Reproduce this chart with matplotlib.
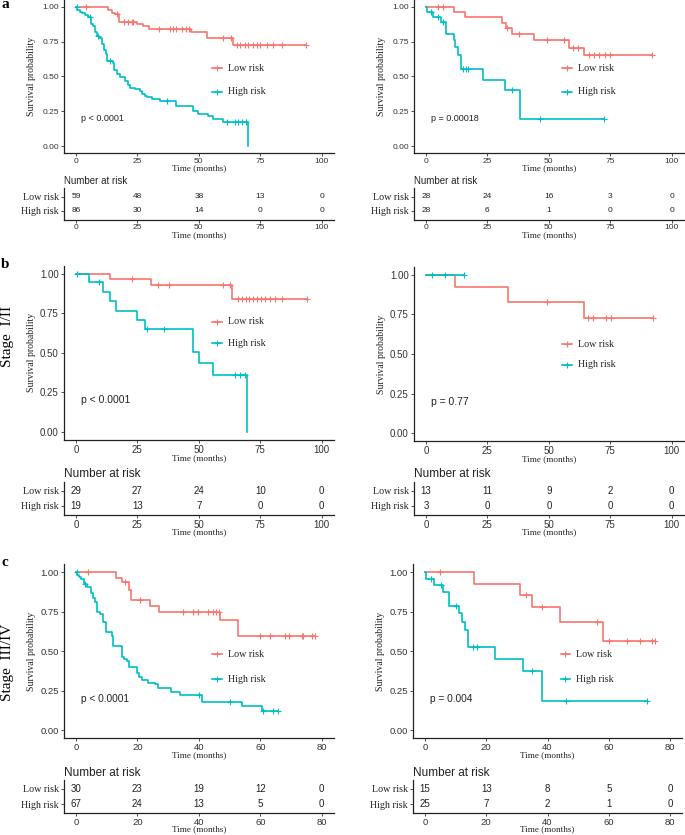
import numpy as np
import matplotlib
matplotlib.use('Agg')
import matplotlib.pyplot as plt

W, H = 685, 835
LOW_C = '#F8766D'
HIGH_C = '#00BFC4'
SERIF = 'Liberation Serif'
SANS = 'Liberation Sans'

# ---- survival curves: step times, survival after step, censor times ----
# a, left
a1_low_t = [0, 12.9, 14.5, 15.9, 17.5, 24.7, 27.1, 29.8, 46.8, 53.2, 64.0]
a1_low_s = [1.0, 0.976, 0.96, 0.95, 0.893, 0.875, 0.86, 0.84, 0.82, 0.775, 0.725]
a1_low_c = [4, 16.5, 19.5, 21.3, 22.7, 23.3, 33.9, 38.3, 39.3, 40.6, 43.0, 44.6, 46,
            60, 63, 65.4, 66.8, 68.8, 70.2, 72.2, 73.5, 74.9, 77.6, 80.3, 83.7, 93.6]
a1_high_t = [0, 0.5, 1.5, 2.5, 3.5, 5, 6, 7, 7.7, 8.5, 9.5, 10.5, 11.5, 12.3, 12.8, 15,
             15.5, 16.5, 18, 20, 21, 22, 24, 26, 27, 28, 29, 31, 34, 40.7, 47.8, 49.8,
             53.9, 55.9, 60, 69.9]
a1_high_s = [1.0, 0.977, 0.965, 0.953, 0.94, 0.925, 0.88, 0.86, 0.82, 0.79, 0.78, 0.735,
             0.69, 0.66, 0.61, 0.60, 0.545, 0.52, 0.495, 0.47, 0.44, 0.42, 0.407, 0.395,
             0.371, 0.36, 0.353, 0.34, 0.325, 0.285, 0.25, 0.233, 0.213, 0.197, 0.175, 0.0]
a1_high_c = [0.3, 5.5, 9, 14, 37, 61.3, 64.7, 66.1, 67.4, 69.2]

# a, right
a2_low_t = [0, 11.2, 16, 31, 32.5, 35.1, 44, 58.2, 64.2]
a2_low_s = [1.0, 0.964, 0.928, 0.885, 0.847, 0.806, 0.76, 0.707, 0.652]
a2_low_c = [5, 7, 33, 38, 49.3, 56, 60, 62, 66.3, 68.3, 70.3, 73, 74.8, 92.1]
a2_high_t = [0, 0.3, 3, 6.1, 8.2, 11.2, 11.8, 13.2, 14.1, 23.1, 32.1, 38.4]
a2_high_s = [1.0, 0.964, 0.929, 0.89, 0.803, 0.76, 0.712, 0.657, 0.556, 0.477, 0.40, 0.197]
a2_high_c = [2, 5, 7, 15.2, 16.3, 17.3, 35, 46.3, 72.4]

# b, left (stage I/II)
b1_low_t = [0, 14.0, 30.4, 63.6]
b1_low_s = [1.0, 0.966, 0.93, 0.84]
b1_low_c = [22.9, 33.4, 37.9, 60, 62.5, 65.8, 67.6, 69, 70.3, 72, 73.7, 75.1, 77.1,
            79.1, 81.1, 83.8, 94]
b1_high_t = [0, 5.2, 10.8, 14.0, 16.2, 25.0, 28.0, 47.7, 50, 55.7, 69.6]
b1_high_s = [1.0, 0.947, 0.886, 0.83, 0.766, 0.707, 0.649, 0.503, 0.434, 0.36, 0.0]
b1_high_c = [0.3, 9.3, 28.8, 35.8, 64.8, 66.9, 68.6]

# b, right
b2_low_t = [0, 11.7, 33.2, 64.3]
b2_low_s = [1.0, 0.923, 0.83, 0.726]
b2_low_c = [49.1, 66.1, 68.1, 73.1, 75.2, 92.3]
b2_high_t = [0]
b2_high_s = [1.0]
b2_high_c = [2.4, 7.7, 15.5]

# c, left (stage III/IV)
c1_low_t = [0, 12.9, 14.9, 17.3, 17.8, 24.1, 27.1, 46.9, 52.9]
c1_low_s = [1.0, 0.967, 0.94, 0.89, 0.825, 0.787, 0.75, 0.70, 0.60]
c1_low_c = [4, 16, 20.8, 34.7, 38.2, 39.8, 43.1, 44.7, 45.6, 46.4, 59.9, 63.2, 68.1,
            69.2, 73.5, 74, 76.8, 77.9]
c1_high_t = [0, 0.4, 1.0, 1.6, 2.6, 3.5, 4.8, 5.6, 6.2, 6.7, 7.8, 8.7, 9.8, 11.6, 11.9,
             14.9, 15.6, 16.5, 17.4, 19.8, 20.6, 21.4, 23.6, 25.7, 26.8, 30.8, 33.9,
             40.9, 54.0, 60.5]
c1_high_s = [1.0, 0.985, 0.97, 0.955, 0.925, 0.91, 0.866, 0.84, 0.814, 0.75, 0.735,
             0.686, 0.622, 0.60, 0.534, 0.464, 0.45, 0.44, 0.40, 0.36, 0.34, 0.32, 0.30,
             0.29, 0.265, 0.24, 0.225, 0.18, 0.155, 0.12]
c1_high_c = [0.2, 2.9, 40.2, 50.2, 61, 64.3, 65.9]

# c, right
c2_low_t = [0, 16.1, 31, 34.9, 44.1, 58.2]
c2_low_s = [1.0, 0.926, 0.858, 0.778, 0.683, 0.566]
c2_low_c = [4.9, 33, 38.1, 56, 60.2, 66, 70.2, 74.2, 75.1]
c2_high_t = [0, 0.3, 2.9, 5.8, 7.9, 11.1, 12, 12.9, 13.9, 23, 32.1, 38.1]
c2_high_s = [1.0, 0.96, 0.919, 0.875, 0.788, 0.74, 0.686, 0.633, 0.527, 0.452, 0.375, 0.186]
c2_high_c = [2.0, 5.2, 10.1, 15.8, 17.1, 35.1, 46.2, 72.4]

# ---- number at risk ----
a1_risk_low, a1_risk_high = [59, 48, 38, 13, 0], [86, 30, 14, 0, 0]
a2_risk_low, a2_risk_high = [28, 24, 16, 3, 0], [28, 6, 1, 0, 0]
b1_risk_low, b1_risk_high = [29, 27, 24, 10, 0], [19, 13, 7, 0, 0]
b2_risk_low, b2_risk_high = [13, 11, 9, 2, 0], [3, 0, 0, 0, 0]
c1_risk_low, c1_risk_high = [30, 23, 19, 12, 0], [67, 24, 13, 5, 0]
c2_risk_low, c2_risk_high = [15, 13, 8, 5, 0], [25, 7, 2, 1, 0]

pvals = ['p < 0.0001', 'p = 0.00018', 'p < 0.0001', 'p = 0.77', 'p < 0.0001', 'p = 0.004']
group_labels = ['Low risk', 'High risk']


def rect(l, t, r, b):
    return [l / W, 1 - b / H, (r - l) / W, (b - t) / H]


def ftext(x, y, s, **kw):
    fig.text(x / W, 1 - y / H, s, **kw)


def draw_curve(ax, t, s, cens, color):
    t = np.asarray(t, float)
    s = np.asarray(s, float)
    cens = np.asarray(cens, float)
    end = max(t[-1], cens.max())
    ax.step(np.append(t, end), np.append(s, s[-1]), where='post', color=color, lw=1.2)
    idx = np.searchsorted(t, cens, side='right') - 1
    ax.plot(cens, s[idx], ls='none', marker='+', ms=4.5, mew=0.8, color=color)


def style_axis(ax, fs):
    for sp in ['top', 'right']:
        ax.spines[sp].set_visible(False)
    for sp in ['left', 'bottom']:
        ax.spines[sp].set_linewidth(0.9)
        ax.spines[sp].set_color('#222222')
    ax.tick_params(length=2, width=0.6, color='#333333', labelsize=fs,
                   labelcolor='#333333', pad=1.5)
    for lab in ax.get_xticklabels() + ax.get_yticklabels():
        lab.set_fontfamily(SANS)


def km_panel(box, low, high, xmax, xstep, pval, px, leg_y, fs):
    l, t, r, b = box
    ax = fig.add_axes(rect(l, t, r, b))
    draw_curve(ax, *low, LOW_C)
    draw_curve(ax, *high, HIGH_C)
    ax.set_xlim(-0.05 * xmax, 1.05 * xmax)
    ax.set_ylim(-0.05, 1.05)
    ax.set_xticks(np.arange(0, xmax + 1, xstep))
    ax.set_yticks([0, 0.25, 0.5, 0.75, 1.0])
    ax.set_yticklabels(['0.00', '0.25', '0.50', '0.75', '1.00'])
    style_axis(ax, fs)
    ax.text(px, 0.2, pval, fontsize=fs + 0.5, family=SANS, color='#222222',
            ha='left', va='center')
    # legend keys
    for yy, col, lab in zip(leg_y, [LOW_C, HIGH_C], group_labels):
        ax.plot([0.549, 0.584], [yy, yy], color=col, lw=1.2, transform=ax.transAxes,
                clip_on=False)
        ax.plot([0.5665], [yy], color=col, marker='+', ms=4.5, mew=0.8,
                transform=ax.transAxes, clip_on=False)
        ax.text(0.607, yy, lab, transform=ax.transAxes, fontsize=7.2, family=SERIF,
                ha='left', va='center', color='#222222')
    ftext(l - 32, (t + b) / 2, 'Survival probability', rotation=90, fontsize=7.0,
          family=SERIF, ha='center', va='center', color='#222222')
    return ax


def risk_panel(box, rlow, rhigh, xmax, xstep, fs, fs_num, fs_title):
    l, t, r, b = box
    ax = fig.add_axes(rect(l, t, r, b))
    xs = np.arange(0, xmax + 1, xstep)
    for x, n in zip(xs, rlow):
        ax.text(x, 2, str(n), ha='center', va='center', fontsize=fs_num, family=SANS,
                color='#222222')
    for x, n in zip(xs, rhigh):
        ax.text(x, 1, str(n), ha='center', va='center', fontsize=fs_num, family=SANS,
                color='#222222')
    ax.set_xlim(-0.05 * xmax, 1.05 * xmax)
    ax.set_ylim(0.4, 2.6)
    ax.set_xticks(xs)
    ax.set_yticks([1, 2])
    ax.set_yticklabels(group_labels[::-1])
    style_axis(ax, fs)
    for lab in ax.get_yticklabels():
        lab.set_fontfamily(SERIF)
        lab.set_fontsize(7.2)
        lab.set_color('#222222')
    ftext(l, t - 7.5, 'Number at risk', fontsize=fs_title, family=SANS, ha='left',
          va='center', color='#222222')
    return ax


fig = plt.figure(figsize=(W / 100, H / 100), dpi=100)

rows = [
    dict(km=[(63.7, 0, 334, 153), (413.7, 0, 684, 153)],
         rt=[(63.7, 188.1, 334, 219.5), (413.7, 188.1, 684, 219.5)],
         curves=[((a1_low_t, a1_low_s, a1_low_c), (a1_high_t, a1_high_s, a1_high_c)),
                 ((a2_low_t, a2_low_s, a2_low_c), (a2_high_t, a2_high_s, a2_high_c))],
         risk=[(a1_risk_low, a1_risk_high), (a2_risk_low, a2_risk_high)],
         xmax=100, xstep=25, px=2.0, fs=6.0, fs_num=6.0, fs_title=7.0,
         leg=[(0.553, 0.40), (0.553, 0.40)], kmt=15.5, rtt=15.5),
    dict(km=[(63.7, 265.8, 334, 439.9), (413.7, 266.8, 684, 441.2)],
         rt=[(63.7, 481.7, 334, 514.7), (413.7, 481.7, 684, 514.7)],
         curves=[((b1_low_t, b1_low_s, b1_low_c), (b1_high_t, b1_high_s, b1_high_c)),
                 ((b2_low_t, b2_low_s, b2_low_c), (b2_high_t, b2_high_s, b2_high_c))],
         risk=[(b1_risk_low, b1_risk_high), (b2_risk_low, b2_risk_high)],
         xmax=100, xstep=25, px=2.0, fs=7.0, fs_num=7.0, fs_title=8.5,
         leg=[(0.679, 0.555), (0.556, 0.437)], kmt=18, rtt=17.5),
    dict(km=[(63.7, 564.4, 334, 738.2), (412.75, 564.4, 682.25, 738.2)],
         rt=[(63.7, 780, 334, 813), (412.75, 780, 682.25, 813)],
         curves=[((c1_low_t, c1_low_s, c1_low_c), (c1_high_t, c1_high_s, c1_high_c)),
                 ((c2_low_t, c2_low_s, c2_low_c), (c2_high_t, c2_high_s, c2_high_c))],
         risk=[(c1_risk_low, c1_risk_high), (c2_risk_low, c2_risk_high)],
         xmax=80, xstep=20, px=1.6, fs=6.8, fs_num=7.0, fs_title=8.5,
         leg=[(0.484, 0.34), (0.484, 0.34)], kmt=17, rtt=16.5),
]

k = 0
for row in rows:
    for j in range(2):
        low, high = row['curves'][j]
        km_panel(row['km'][j], low, high, row['xmax'], row['xstep'], pvals[k],
                 row['px'], row['leg'][j], row['fs'])
        l, t, r, b = row['km'][j]
        ftext((l + r) / 2, b + row['kmt'], 'Time (months)', fontsize=6.6, family=SERIF,
              ha='center', va='center', color='#222222')
        rl, rh = row['risk'][j]
        risk_panel(row['rt'][j], rl, rh, row['xmax'], row['xstep'], row['fs'],
                   row['fs_num'], row['fs_title'])
        l, t, r, b = row['rt'][j]
        ftext((l + r) / 2, b + row['rtt'], 'Time (months)', fontsize=6.6, family=SERIF,
              ha='center', va='center', color='#222222')
        k += 1

ftext(5, 5, 'a', fontsize=11, family=SERIF, weight='bold', ha='center', va='center')
ftext(5, 265, 'b', fontsize=11, family=SERIF, weight='bold', ha='center', va='center')
ftext(5, 563, 'c', fontsize=11, family=SERIF, weight='bold', ha='center', va='center')
ftext(8, 336, 'Stage  I/II', rotation=90, fontsize=11, family=SERIF, ha='center',
      va='center')
ftext(8, 662, 'Stage  III/IV', rotation=90, fontsize=11, family=SERIF, ha='center',
      va='center')

fig.savefig('out.png', dpi=100)
